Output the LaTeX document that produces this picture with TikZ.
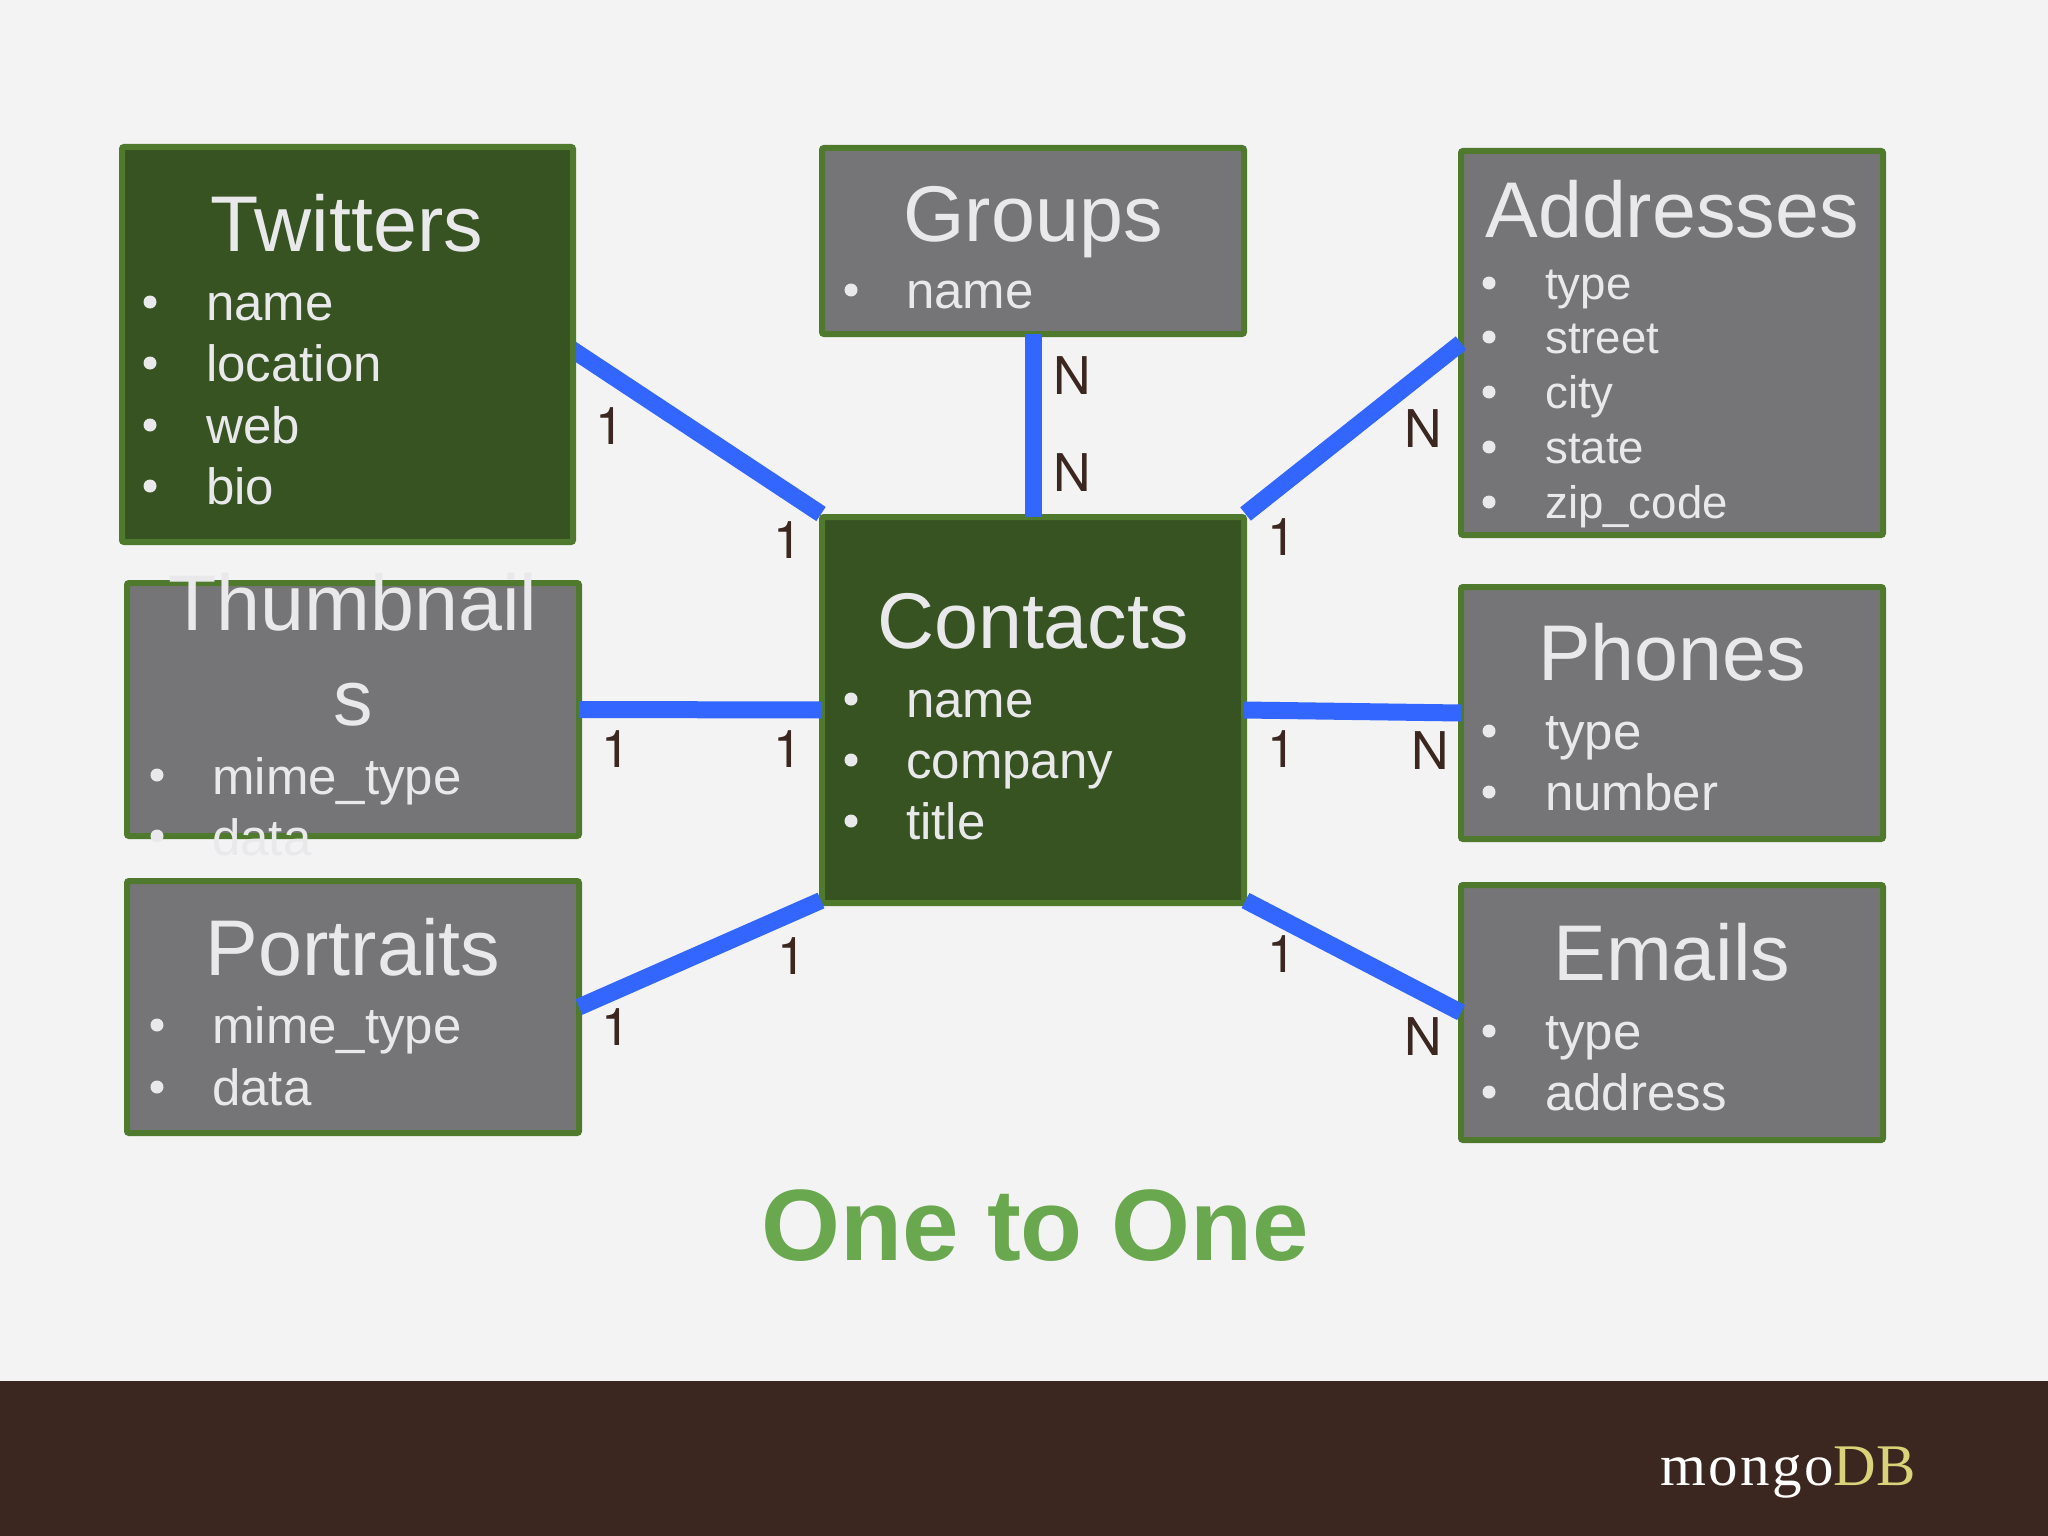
\documentclass[tikz,border=0pt]{standalone}
\usepackage{fontspec}
\usetikzlibrary{backgrounds}
\setmainfont{Liberation Sans}
\newfontfamily\logofont{Liberation Serif}
\newfontfamily\logospaced[LetterSpace=4]{Liberation Serif}
\newfontfamily\cardfont{TeX Gyre Heros}
\definecolor{pagebg}{HTML}{F3F3F4}
\definecolor{bandbrown}{HTML}{3B271F}
\definecolor{darkgreen}{HTML}{385322}
\definecolor{edgegreen}{HTML}{4F7A2E}
\definecolor{boxgray}{HTML}{757577}
\definecolor{lighttext}{HTML}{E9E9EB}
\definecolor{linkblue}{HTML}{3366FF}
\definecolor{titlegreen}{HTML}{6AA84F}
\definecolor{logogold}{HTML}{DBD37A}
\tikzset{
  tablebox/.style={draw=edgegreen,line width=6pt,rounded corners=2pt,outer sep=0pt,inner sep=0pt},
  tablemain/.style={tablebox,fill=darkgreen},
  tablegray/.style={tablebox,fill=boxgray},
  tablename/.style={text=lighttext,anchor=base,inner sep=0pt,font=\fontsize{79}{90}\selectfont},
  field/.style={text=lighttext,anchor=base west,inner sep=0pt,font=\fontsize{51}{60}\selectfont},
  smallfield/.style={text=lighttext,anchor=base west,inner sep=0pt,font=\fontsize{45.6}{55}\selectfont},
  bullet/.style={circle,fill=lighttext,inner sep=0pt,minimum size=13pt},
  link/.style={linkblue,line width=17pt},
  card/.style={text=bandbrown,anchor=base,inner sep=0pt,font=\fontsize{52}{60}\cardfont},
}
\begin{document}
\begin{tikzpicture}[x=1pt,y=-1pt]
\useasboundingbox (0,0) rectangle (2048,1536);

\node[tablemain,minimum width=451pt,minimum height=395pt] (twitters) at (347.5,344.5) {};
\node[tablegray,minimum width=452pt,minimum height=253pt] (thumbnails) at (353,709.5) {};
\node[tablegray,minimum width=452pt,minimum height=252pt] (portraits) at (353,1007) {};
\node[tablegray,minimum width=422pt,minimum height=186pt] (groups) at (1033,241) {};
\node[tablemain,minimum width=422pt,minimum height=386pt] (contacts) at (1033,710) {};
\node[tablegray,minimum width=422pt,minimum height=384pt] (addresses) at (1672,343) {};
\node[tablegray,minimum width=422pt,minimum height=252pt] (phones) at (1672,713) {};
\node[tablegray,minimum width=422pt,minimum height=255pt] (emails) at (1672,1012.5) {};

\begin{scope}[on background layer]
\fill[pagebg] (0,0) rectangle (2048,1536);
\fill[bandbrown] (0,1381) rectangle (2048,1536);
\draw[link] ([xshift=-10pt,yshift=1pt]twitters.east) -- ([xshift=-1pt,yshift=3pt]contacts.north west);
\end{scope}

\node[tablename] (twittersname) at (347,251) {Twitters};
\node[tablename] (thumbnailsname) at (353,630) {Thumbnail};
\node[tablename] (thumbnailsrest) at (353,725) {s};
\node[tablename] (portraitsname) at (353,975) {Portraits};
\node[tablename] (groupsname) at (1033,241) {Groups};
\node[tablename] (contactsname) at (1033,648) {Contacts};
\node[tablename] (addressesname) at (1672,237) {Addresses};
\node[tablename] (phonesname) at (1672,680) {Phones};
\node[tablename] (emailsname) at (1672,980) {Emails};

\foreach\y/\ytext in {320/name,381/location,443/web,504/bio} {
\node[bullet] (twittersdot\y) at (150,\y-18) {};
\node[field] (twittersfield\y) at (206,\y) {\ytext};
}
\foreach\y/\ytext in {794/mime\_type,855/data} {
\node[bullet] (thumbnailsdot\y) at (157,\y-19) {};
\node[field] (thumbnailsfield\y) at (212,\y) {\ytext};
}
\foreach\y/\ytext in {1043/mime\_type,1105/data} {
\node[bullet] (portraitsdot\y) at (157,\y-18) {};
\node[field] (portraitsfield\y) at (212,\y) {\ytext};
}
\foreach\y/\ytext in {308/name} {
\node[bullet] (groupsdot\y) at (851,\y-18) {};
\node[field] (groupsfield\y) at (906,\y) {\ytext};
}
\foreach\y/\ytext in {717/name,778/company,839/title} {
\node[bullet] (contactsdot\y) at (851,\y-18) {};
\node[field] (contactsfield\y) at (906,\y) {\ytext};
}
\foreach\y/\ytext in {299/type,353/street,408/city,463/state,518/zip\_code} {
\node[bullet] (addressesdot\y) at (1489,\y-16) {};
\node[smallfield] (addressesfield\y) at (1545,\y) {\ytext};
}
\foreach\y/\ytext in {749/type,810/number} {
\node[bullet] (phonesdot\y) at (1489,\y-18) {};
\node[field] (phonesfield\y) at (1545,\y) {\ytext};
}
\foreach\y/\ytext in {1049/type,1110/address} {
\node[bullet] (emailsdot\y) at (1489,\y-18) {};
\node[field] (emailsfield\y) at (1545,\y) {\ytext};
}

\draw[link] (groups.south) -- (contacts.north);
\draw[link] (addresses.west) -- ([xshift=1.5pt,yshift=3pt]contacts.north east);
\draw[link] (thumbnails.east) -- (contacts.west);
\draw[link] (phones.west) -- (contacts.east);
\draw[link] (portraits.east) -- ([xshift=-1pt,yshift=2.5pt]contacts.south west);
\draw[link] (emails.west) -- ([xshift=1.5pt,yshift=2.5pt]contacts.south east);

\node[card] (n1) at (610,444) {1};
\node[card] (n2) at (788,558) {1};
\node[card] (n3) at (1072,394) {N};
\node[card] (n4) at (1072,491) {N};
\node[card] (n5) at (1423,447) {N};
\node[card] (n6) at (1282,555) {1};
\node[card] (n7) at (616,767) {1};
\node[card] (n8) at (788,767) {1};
\node[card] (n9) at (1282,767) {1};
\node[card] (n10) at (1430,769) {N};
\node[card] (n11) at (792,974) {1};
\node[card] (n12) at (616,1045) {1};
\node[card] (n13) at (1282,972) {1};
\node[card] (n14) at (1423,1055) {N};

\node[anchor=base,inner sep=0pt,text=titlegreen,font=\fontsize{101.5}{110}\selectfont\bfseries] (heading) at (1035,1260) {One to One};
\node[anchor=base west,inner sep=0pt,text=white,font=\fontsize{59}{70}\logospaced] (logo) at (1660,1485) {mongo\textcolor{logogold}{\logofont DB}};
\end{tikzpicture}
\end{document}
